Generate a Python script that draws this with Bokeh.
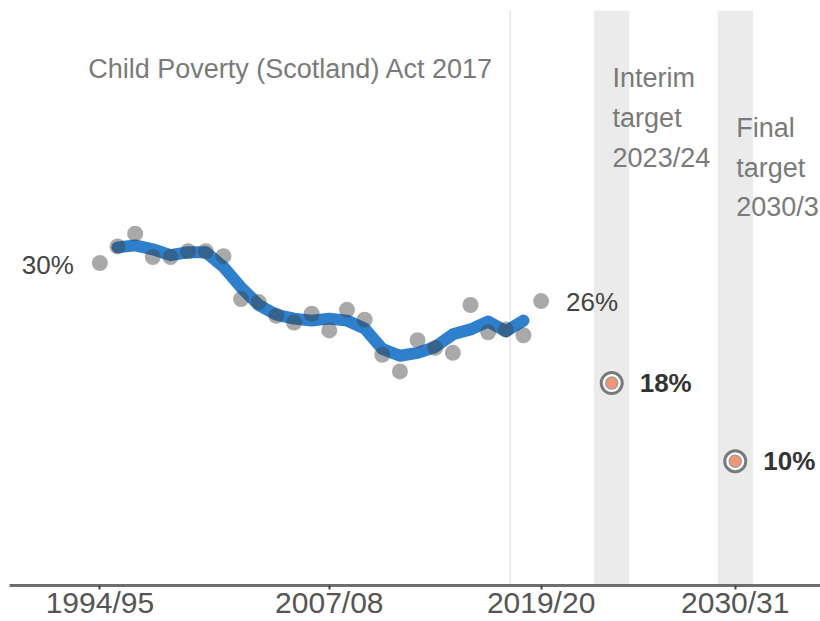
from bokeh.plotting import figure
from bokeh.models import Range1d, FixedTicker, Span, BoxAnnotation, Label
from bokeh.embed import file_html
from bokeh.resources import INLINE

# ---- data ----
years = [1994, 1995, 1996, 1997, 1998, 1999, 2000, 2001, 2002, 2003, 2004, 2005, 2006,
         2007, 2008, 2009, 2010, 2011, 2012, 2013, 2014, 2015, 2016, 2017, 2018, 2019]
rate = [30.3, 32.0, 33.3, 30.9, 30.9, 31.5, 31.5, 31.0, 26.6, 26.3, 24.9, 24.2, 25.1,
        23.4, 25.5, 24.5, 20.9, 19.2, 22.4, 21.6, 21.1, 26.0, 23.2, 23.5, 22.9, 26.4]

smooth_years = [1995, 1996, 1997, 1998, 1999, 2000, 2001, 2002, 2003, 2004, 2005, 2006,
                2007, 2008, 2009, 2010, 2011, 2012, 2013, 2014, 2015, 2016, 2017, 2018]
smooth_rate = [31.9, 32.1, 31.7, 31.1, 31.4, 31.4, 29.9, 27.8, 26.0, 25.0, 24.6, 24.4,
               24.6, 24.4, 23.6, 21.5, 20.8, 21.1, 21.7, 23.0, 23.5, 24.3, 23.3, 24.4]

tick_years = [1994, 2007, 2019, 2030]
tick_labels = ["1994/95", "2007/08", "2019/20", "2030/31"]

target_years = [2023, 2030]
target_values = [18, 10]
target_labels = ["18%", "10%"]
target_names = [["Interim", "target", "2023/24"], ["Final", "target", "2030/31"]]

act_year = 2017.25
act_label = "Child Poverty (Scotland) Act 2017"

FONT = "Liberation Sans"

p = figure(width=820, height=621, output_backend="svg", toolbar_location=None,
           x_range=Range1d(1988.88, 2034.83), y_range=Range1d(-2.72, 56.15),
           y_axis_location=None,
           min_border_left=9, min_border_right=0, min_border_top=10, min_border_bottom=0)
p.outline_line_color = None
p.xgrid.visible = False
p.ygrid.visible = False
p.background_fill_color = "white"

# target bands
for ty in target_years:
    p.add_layout(BoxAnnotation(left=ty - 1, right=ty + 1, fill_color="#ebebeb",
                               fill_alpha=1.0, line_color=None, level="underlay"))

# act line
p.add_layout(Span(location=act_year, dimension="height", line_color="#e8e8e8",
                  line_width=1.5, level="underlay"))

# smoothed line
p.line(smooth_years, smooth_rate, line_color="#2e80cc", line_width=12,
       line_join="round", line_cap="round")

# dots
p.scatter(years, rate, size=16, fill_color="#404040", fill_alpha=0.45, line_color=None)

# targets
p.scatter(target_years, target_values, size=21, fill_color="white",
          line_color="#7a7a7a", line_width=3)
p.scatter(target_years, target_values, size=12, fill_color="#f39473",
          line_color="#a0a0a0", line_width=1.5)

# x axis
ax = p.xaxis[0]
ax.ticker = FixedTicker(ticks=tick_years)
ax.major_label_overrides = {t: l for t, l in zip(tick_years, tick_labels)}
ax.axis_line_color = "#6e6e6e"
ax.axis_line_width = 3
ax.major_tick_line_color = "#444444"
ax.major_tick_line_width = 2
ax.major_tick_in = 0
ax.major_tick_out = 4
ax.minor_tick_line_color = None
ax.major_label_text_font = FONT
ax.major_label_text_font_size = "30px"
ax.major_label_text_color = "#555555"
ax.major_label_standoff = -4

# value labels
p.add_layout(Label(x=years[0], y=rate[0], text="30%", x_offset=-26, y_offset=-2,
                   text_align="right", text_baseline="middle", text_font=FONT,
                   text_font_size="26px", text_color="#444444"))
p.add_layout(Label(x=years[-1], y=rate[-1], text="26%", x_offset=25, y_offset=-1,
                   text_align="left", text_baseline="middle", text_font=FONT,
                   text_font_size="26px", text_color="#444444"))
for ty, tv, tl in zip(target_years, target_values, target_labels):
    p.add_layout(Label(x=ty, y=tv, text=tl, x_offset=28, text_align="left",
                       text_baseline="middle", text_font=FONT, text_font_size="26px",
                       text_font_style="bold", text_color="#333333"))

# annotation texts
p.add_layout(Label(x=2016.3, y=50.2, text=act_label, text_align="right",
                   text_baseline="middle", text_font=FONT, text_font_size="27px",
                   text_color="#7a7a7a"))
name_y = [[49.28, 45.18, 41.08], [44.15, 40.05, 36.05]]
for ty, lines, ys in zip(target_years, target_names, name_y):
    for line, yy in zip(lines, ys):
        p.add_layout(Label(x=ty + 0.05, y=yy, text=line, text_align="left",
                           text_baseline="middle", text_font=FONT,
                           text_font_size="27px", text_color="#7a7a7a"))

open("out.html", "w").write(file_html(p, INLINE))
